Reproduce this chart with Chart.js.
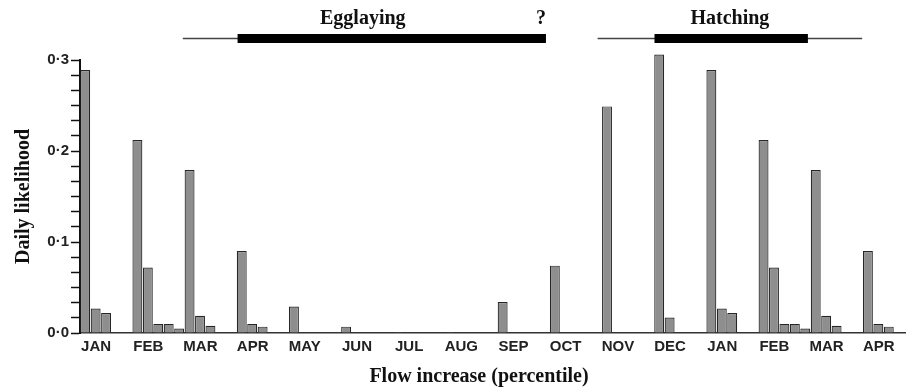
<!DOCTYPE html>
<html>
<head>
<meta charset="utf-8">
<script src="https://cdn.jsdelivr.net/npm/chart.js@4.4.1/dist/chart.umd.min.js"></script>
<style>
  html, body { margin: 0; padding: 0; background: #fff; }
  #wrap { width: 906px; height: 391px; position: relative; }
</style>
</head>
<body>
<div id="wrap"><canvas id="chart"></canvas></div>
<script>
// month of the flow increase, two overlapping years
const months = ["JAN", "FEB", "MAR", "APR", "MAY", "JUN", "JUL", "AUG", "SEP", "OCT", "NOV", "DEC", "JAN", "FEB", "MAR", "APR"];
const yLabels = [0, 0.1, 0.2, 0.3];

// daily likelihood for each flow increase percentile class
const class1 = [0.289, 0.212, 0.179, 0.090, 0.029, 0.007, 0.001, 0.001, 0.034, 0.074, 0.249, 0.306, 0.289, 0.212, 0.179, 0.090];
const class2 = [0.027, 0.072, 0.019, 0.010, null, null, null, null, null, null, null, 0.017, 0.027, 0.072, 0.019, 0.010];
const class3 = [0.022, 0.010, 0.008, 0.007, null, null, null, null, null, null, null, null, 0.022, 0.010, 0.008, 0.007];
const class4 = [null, 0.010, null, null, null, null, null, null, null, null, null, null, null, 0.010, null, null];
const class5 = [null, 0.005, null, null, null, null, null, null, null, null, null, null, null, 0.005, null, null];

// periods in month units (0 = first JAN), thin = whole span, thick = main span
const egglayingThin = [1.47, 8.43];
const egglayingThick = [2.52, 8.43];
const hatchingThin = [9.42, 14.49];
const hatchingThick = [10.51, 13.45];

const toPoints = arr => arr.map((v, i) => ({ x: i, y: v })).filter(p => p.y !== null);

const barStyle = {
  backgroundColor: "#8e8e8e",
  borderColor: "#262626",
  borderWidth: 1.2,
  categoryPercentage: 1.0,
  barPercentage: 0.95,
  clip: false
};

const periods = {
  id: "periods",
  afterDraw(chart) {
    const ctx = chart.ctx;
    const px = v => chart.scales.x.getPixelForValue(v);
    const lineY = 38.5;
    ctx.save();
    ctx.lineCap = "butt";
    ctx.strokeStyle = "#444";
    ctx.lineWidth = 1.5;
    [egglayingThin, hatchingThin].forEach(([a, b]) => {
      ctx.beginPath();
      ctx.moveTo(px(a), lineY);
      ctx.lineTo(px(b), lineY);
      ctx.stroke();
    });
    ctx.strokeStyle = "#000";
    ctx.lineWidth = 9;
    [egglayingThick, hatchingThick].forEach(([a, b]) => {
      ctx.beginPath();
      ctx.moveTo(px(a), lineY);
      ctx.lineTo(px(b), lineY);
      ctx.stroke();
    });

    ctx.fillStyle = "#111";
    ctx.font = "bold 20px 'Liberation Serif', serif";
    ctx.textBaseline = "alphabetic";
    ctx.textAlign = "center";
    ctx.fillText("Egglaying", px(4.92), 24);
    ctx.fillText("Hatching", px((hatchingThin[0] + hatchingThin[1]) / 2), 24);
    ctx.textAlign = "right";
    ctx.fillText("?", px(egglayingThick[1]), 24);

    // x axis title
    ctx.textAlign = "center";
    ctx.fillText("Flow increase (percentile)", 479, 382);
    ctx.restore();
  }
};

new Chart(document.getElementById("chart"), {
  type: "bar",
  data: {
    datasets: [
      { label: "Class 1", data: toPoints(class1), ...barStyle },
      { label: "Class 2", data: toPoints(class2), ...barStyle },
      { label: "Class 3", data: toPoints(class3), ...barStyle },
      { label: "Class 4", data: toPoints(class4), ...barStyle },
      { label: "Class 5", data: toPoints(class5), ...barStyle }
    ]
  },
  options: {
    responsive: true,
    maintainAspectRatio: false,
    animation: false,
    layout: { padding: { top: 60, right: 0, bottom: 0, left: 0 } },
    plugins: {
      legend: { display: false },
      tooltip: { enabled: false }
    },
    scales: {
      x: {
        type: "linear",
        offset: false,
        min: -0.5,
        max: 15.33,
        afterBuildTicks: scale => {
          scale.ticks = months.map((m, i) => ({ value: i }));
        },
        afterFit: scale => {
          scale.height = 58;
          scale.paddingLeft = 0;
          scale.paddingRight = 0;
        },
        grid: { display: false, drawTicks: false, offset: false },
        border: { display: true, color: "#333", width: 1.5 },
        ticks: {
          autoSkip: false,
          maxRotation: 0,
          padding: 5,
          labelOffset: -10,
          color: "#222",
          font: { family: "'Liberation Sans', Arial, sans-serif", size: 15, weight: "bold" },
          callback: v => months[v]
        }
      },
      y: {
        min: 0,
        max: 0.3,
        afterFit: scale => { scale.width = 80; },
        grid: {
          drawOnChartArea: false,
          drawTicks: true,
          tickLength: 9,
          tickColor: "#111",
          tickWidth: 1.5
        },
        border: { display: true, color: "#111", width: 2 },
        ticks: {
          stepSize: 0.1 / 6,
          autoSkip: false,
          padding: 2,
          color: "#222",
          font: { family: "'Liberation Sans', Arial, sans-serif", size: 15, weight: "bold" },
          callback: v => {
            const hit = yLabels.find(t => Math.abs(t - v) < 1e-6);
            return hit === undefined ? "" : hit.toFixed(1).replace(".", "\u00b7");
          }
        },
        title: {
          display: true,
          text: "Daily likelihood",
          color: "#111",
          padding: { top: 12, bottom: 0 },
          font: { family: "'Liberation Serif', serif", size: 20, weight: "bold" }
        }
      }
    }
  },
  plugins: [periods]
});
</script>
</body>
</html>
